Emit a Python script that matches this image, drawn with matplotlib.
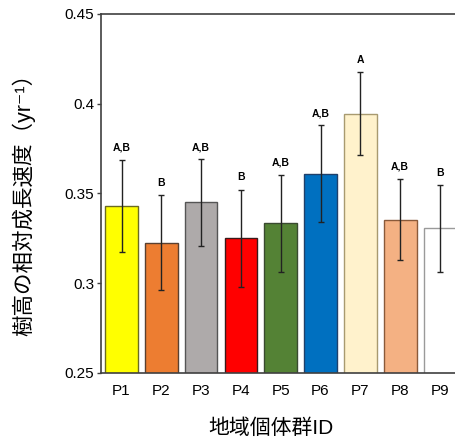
import numpy as np
import matplotlib
matplotlib.use("Agg")
import matplotlib.pyplot as plt

plt.rcParams['font.family'] = ['Liberation Sans', 'Noto Sans CJK JP', 'DejaVu Sans']

# data
groups = ['P1', 'P2', 'P3', 'P4', 'P5', 'P6', 'P7', 'P8', 'P9']
rate = [0.343, 0.3225, 0.345, 0.325, 0.3335, 0.361, 0.3945, 0.3355, 0.3305]
err = [0.0257, 0.0265, 0.024, 0.0272, 0.027, 0.027, 0.023, 0.0225, 0.024]
letters = ['A,B', 'B', 'A,B', 'B', 'A,B', 'A,B', 'A', 'A,B', 'B']
face = ['#FFFF00', '#ED7D31', '#AEAAAA', '#FF0000', '#548235',
        '#0070C0', '#FFF2CC', '#F4B183', '#FFFFFF']
edge = ['#6B6B20', '#5A4030', '#555555', '#3A1A1A', '#3A4A30',
        '#20406A', '#A89A70', '#8A5A3A', '#9A9A9A']

x = np.arange(1, len(groups) + 1)

fig = plt.figure(figsize=(4.55, 4.41), dpi=100)
ax = fig.add_axes([0.222, 0.1542, 0.778, 0.8141])

ax.bar(x, rate, width=0.82, color=face, edgecolor=edge, linewidth=1.0, zorder=2)
ax.errorbar(x, rate, yerr=err, fmt='none', ecolor='#222222', elinewidth=1.0,
            capsize=2.5, capthick=1.0, zorder=3)

for xi, r, e, lab in zip(x, rate, err, letters):
    ax.text(xi, r + e + 0.004, lab, ha='center', va='bottom',
            fontsize=7.5, fontweight='bold')

ax.set_xlim(0.485, 9.377)
ax.set_ylim(0.25, 0.45)
ax.set_yticks([0.25, 0.3, 0.35, 0.4, 0.45])
ax.set_yticklabels(['0.25', '0.3', '0.35', '0.4', '0.45'])
ax.set_xticks(x)
ax.set_xticklabels(groups)
ax.tick_params(axis='y', labelsize=11, length=3, width=1, color='#404040', pad=2)
ax.tick_params(axis='x', labelsize=11, length=0, pad=8)

for s in ['left', 'bottom', 'top']:
    ax.spines[s].set_color('#404040')
    ax.spines[s].set_linewidth(1.2)
ax.spines['right'].set_visible(False)

# axis titles
fig.text(24 / 455, 1 - 199 / 441, '樹高の相対成長速度（yr⁻¹）', rotation=90,
         ha='center', va='center', fontsize=15.5)
fig.text(271 / 455, 1 - 428 / 441, '地域個体群ID', ha='center', va='center',
         fontsize=15)

fig.savefig('out.png', dpi=100)
